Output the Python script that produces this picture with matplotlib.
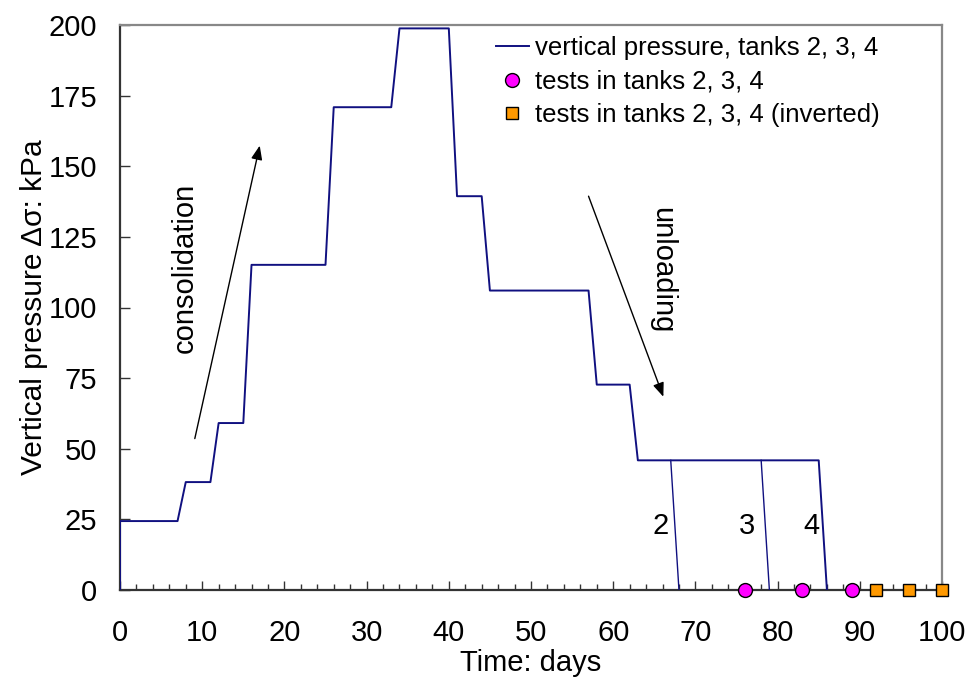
import matplotlib
matplotlib.use("Agg")
import matplotlib.pyplot as plt
from matplotlib.ticker import MultipleLocator

plt.rcParams['font.family'] = ['Liberation Sans', 'DejaVu Sans']

# Load history applied to tanks 2, 3, 4 (tank 4 keeps the 46 kPa stage longest)
load_days = [0, 0, 7, 8, 11, 12, 15, 16, 25, 26, 33, 34, 40, 41, 44, 45, 57, 58, 62, 63, 85, 86]
load_kpa = [0, 24.4, 24.4, 38.2, 38.2, 59.1, 59.1, 115.1, 115.1, 170.9, 170.9, 198.8, 198.8,
            139.4, 139.4, 106.0, 106.0, 72.7, 72.7, 45.9, 45.9, 0]

# Final unloading of tanks 2 and 3
tank2_days = [67, 68]
tank2_kpa = [45.9, 0]
tank3_days = [78, 79]
tank3_kpa = [45.9, 0]

# Test dates
test_days = [76, 83, 89]
test_kpa = [0, 0, 0]
inverted_days = [92, 96, 100]
inverted_kpa = [0, 0, 0]

tank_labels = ["2", "3", "4"]
tank_label_x = [65.75, 76.3, 84.1]
tank_label_y = [22.6, 22.6, 22.6]

navy = '#101080'
fs = 21

fig = plt.figure(figsize=(9.70, 6.79), dpi=100)
ax = fig.add_axes([120 / 970, 89 / 679, 822 / 970, 565 / 679])

ax.plot(load_days, load_kpa, color=navy, lw=1.4, label='vertical pressure, tanks 2, 3, 4', zorder=3)
ax.plot(tank2_days, tank2_kpa, color=navy, lw=1.0, zorder=3)
ax.plot(tank3_days, tank3_kpa, color=navy, lw=1.0, zorder=3)
ax.plot(test_days, test_kpa, ls='none', marker='o', ms=10, mfc='#FF00FF', mec='black', mew=1.0,
        label='tests in tanks 2, 3, 4', clip_on=False, zorder=5)
ax.plot(inverted_days, inverted_kpa, ls='none', marker='s', ms=9, mfc='#FF9900', mec='black', mew=1.0,
        label='tests in tanks 2, 3, 4 (inverted)', clip_on=False, zorder=5)

for t, x, y in zip(tank_labels, tank_label_x, tank_label_y):
    ax.text(x, y, t, fontsize=fs, ha='center', va='center')

# Trend arrows with their captions
ax.annotate('', xy=(17.0, 157.3), xytext=(9.1, 53.6),
            arrowprops=dict(arrowstyle='-|>,head_length=0.7,head_width=0.28', color='black',
                            lw=1.0, shrinkA=0, shrinkB=0, mutation_scale=12))
ax.text(7.9, 114, 'consolidation', rotation=90, fontsize=fs, ha='center', va='center')

ax.annotate('', xy=(66.1, 68.4), xytext=(57.0, 139.4),
            arrowprops=dict(arrowstyle='-|>,head_length=0.7,head_width=0.28', color='black',
                            lw=1.0, shrinkA=0, shrinkB=0, mutation_scale=12))
ax.text(65.9, 113.3, 'unloading', rotation=-90, fontsize=fs, ha='center', va='center')

ax.set_xlim(0, 100)
ax.set_ylim(0, 200)
ax.xaxis.set_major_locator(MultipleLocator(10))
ax.xaxis.set_minor_locator(MultipleLocator(2))
ax.yaxis.set_major_locator(MultipleLocator(25))

ax.tick_params(axis='x', which='major', direction='in', length=6.5, width=1.0, pad=21,
               labelsize=fs, color='#333333')
ax.tick_params(axis='x', which='minor', direction='in', length=4.3, width=1.0, color='#333333')
ax.tick_params(axis='y', which='major', direction='in', length=7.2, width=1.0, pad=16.5,
               labelsize=fs, color='#333333')

for side in ('left', 'bottom'):
    ax.spines[side].set_color('#333333')
    ax.spines[side].set_linewidth(1.6)
for side in ('top', 'right'):
    ax.spines[side].set_color('#888888')
    ax.spines[side].set_linewidth(1.6)

ax.set_xlabel('Time: days', fontsize=fs)
ax.xaxis.set_label_coords(0.5, -0.105)
ax.set_ylabel('Vertical pressure Δσ: kPa', fontsize=21.5)
ax.yaxis.set_label_coords(-0.088, 0.5)

ax.legend(loc='upper left', bbox_to_anchor=(0.457, 0.98), frameon=False, fontsize=18.5,
          borderpad=0, borderaxespad=0, handlelength=1.3, handletextpad=0.25,
          labelspacing=0.36, numpoints=1)

fig.savefig('out.png', dpi=100)
